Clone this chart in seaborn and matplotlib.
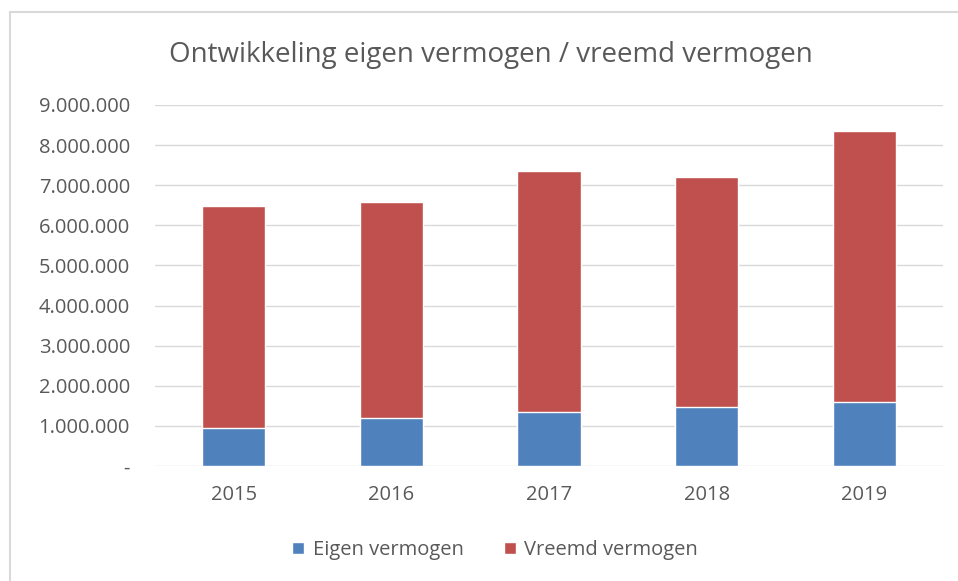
import pandas as pd
import matplotlib.pyplot as plt
import seaborn as sns
from matplotlib.patches import Patch, Rectangle
from matplotlib.ticker import FuncFormatter

# data
jaren = ["2015", "2016", "2017", "2018", "2019"]
eigen_vermogen = [945000, 1200000, 1340000, 1470000, 1590000]
vreemd_vermogen = [5525000, 5370000, 6020000, 5740000, 6770000]

blauw = "#4f81bd"
rood = "#c0504d"
tekst = "#595959"

data = pd.DataFrame({
    "Jaar": jaren,
    "Eigen vermogen": eigen_vermogen,
    "Vreemd vermogen": vreemd_vermogen,
})
data["Totaal"] = data["Eigen vermogen"] + data["Vreemd vermogen"]

sns.set_style("white")
plt.rcParams["font.family"] = ["Open Sans", "DejaVu Sans"]

fig = plt.figure(figsize=(9.58, 5.81), dpi=100)
ax = fig.add_axes([155 / 958, 1 - 466 / 581, 788 / 958, 361 / 581])

# chart frame (Excel style border)
fig.patches.append(Rectangle((10 / 958, -0.01), 1.0, 1 - 12 / 581 + 0.01,
                             transform=fig.transFigure, fill=False,
                             edgecolor="#d9d9d9", linewidth=1.5))

# stacked bars: total in red, eigen vermogen over it in blue
sns.barplot(data=data, x="Jaar", y="Totaal", color=rood, width=0.4,
            saturation=1, ax=ax)
sns.barplot(data=data, x="Jaar", y="Eigen vermogen", color=blauw, width=0.4,
            saturation=1, ax=ax)

ax.set_xlim(-0.5, 4.5)
ax.set_ylim(0, 9000000)
ax.set_yticks(range(0, 9000001, 1000000))
ax.yaxis.set_major_formatter(FuncFormatter(
    lambda v, p: "-" if v == 0 else f"{int(v):,}".replace(",", ".")))
ax.grid(axis="y", color="#d9d9d9", linewidth=1)
ax.set_axisbelow(True)
for s in ax.spines.values():
    s.set_visible(False)
ax.tick_params(axis="both", length=0, labelsize=14.5, colors=tekst)
ax.tick_params(axis="y", pad=18)
ax.tick_params(axis="x", pad=14)
ax.set_xlabel("")
ax.set_ylabel("")

fig.text(491 / 958, 1 - 55 / 581, "Ontwikkeling eigen vermogen / vreemd vermogen",
         ha="center", va="center", fontsize=20, color=tekst)

handles = [Patch(facecolor=blauw, label="Eigen vermogen"),
           Patch(facecolor=rood, label="Vreemd vermogen")]
fig.legend(handles=handles, loc="center", bbox_to_anchor=(495 / 958, 1 - 550 / 581),
           ncol=2, frameon=False, fontsize=14.5, handlelength=0.6, handleheight=0.6,
           columnspacing=2.0, handletextpad=0.4, labelcolor=tekst)

fig.savefig("out.png", dpi=100)
